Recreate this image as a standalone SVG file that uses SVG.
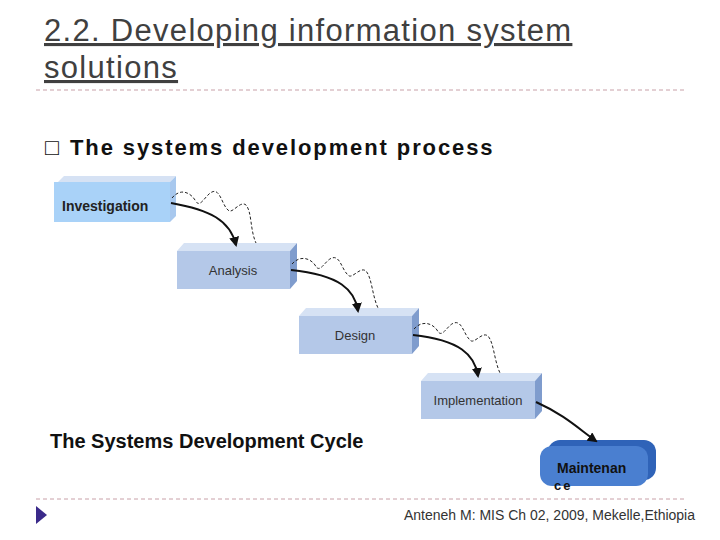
<svg xmlns="http://www.w3.org/2000/svg" width="720" height="540" viewBox="0 0 720 540">
<style>
.t{font-family:"Liberation Sans",Arial,sans-serif}
.front{fill:#b4c8e8}
.top{fill:#d6e2f4}
.side{fill:#7f9ccd}
.lbl{font-family:"Liberation Sans",Arial,sans-serif;font-size:13px;fill:#333}
.arr{fill:none;stroke:#111;stroke-width:2}
.wav{fill:none;stroke:#222;stroke-width:1;stroke-dasharray:3,2}
.sep{stroke:#c8a0a8;stroke-width:1;stroke-dasharray:4,3}
</style>
<defs>
<marker id="ah" viewBox="0 0 10 10" refX="8" refY="5" markerWidth="5" markerHeight="5" orient="auto"><path d="M0,0L10,5L0,10z" fill="#111"/></marker>
</defs>
<rect width="720" height="540" fill="#fff"/>
<text class="t" x="44" y="41" font-size="31" fill="#404040" letter-spacing="1.3" text-decoration="underline">2.2.  Developing information system</text>
<text class="t" x="44" y="78" font-size="31" fill="#404040" letter-spacing="1.3" text-decoration="underline">solutions</text>
<line class="sep" x1="36" y1="90" x2="686" y2="90"/>
<line class="sep" x1="36" y1="499" x2="686" y2="499"/>
<text class="t" x="45" y="155" font-size="23" fill="#111">□</text>
<text class="t" x="70" y="155" font-size="22" font-weight="bold" fill="#111" letter-spacing="1.9">The systems development process</text>
<g id="investigation">
<polygon class="top" points="58,182 170,182 176,176 64,176"/>
<polygon points="170,182 176,176 176,216 170,222" fill="#a8c8ee"/>
<rect x="54" y="182" width="116" height="40" fill="#a9d2f8"/>
<text class="t" x="62" y="211" font-size="14" font-weight="bold" fill="#222">Investigation</text>
</g>
<g id="analysis">
<polygon class="top" points="177,251 290,251 297,243 184,243"/>
<polygon class="side" points="290,251 297,243 297,281 290,289"/>
<rect class="front" x="177" y="251" width="113" height="38"/>
<text class="lbl" x="233" y="275" text-anchor="middle">Analysis</text>
</g>
<g id="design">
<polygon class="top" points="299,316 412,316 419,308 306,308"/>
<polygon class="side" points="412,316 419,308 419,346 412,354"/>
<rect class="front" x="299" y="316" width="113" height="38"/>
<text class="lbl" x="355" y="340" text-anchor="middle">Design</text>
</g>
<g id="implementation">
<polygon class="top" points="421,381 535,381 542,373 428,373"/>
<polygon class="side" points="535,381 542,373 542,411 535,419"/>
<rect class="front" x="421" y="381" width="114" height="38"/>
<text class="lbl" x="478" y="405" text-anchor="middle">Implementation</text>
</g>
<g id="maintenance">
<rect x="548" y="440" width="108" height="40" rx="12" fill="#2f63b8"/>
<rect x="540" y="446" width="108" height="40" rx="12" fill="#4a7fd0"/>
<text class="t" x="557" y="473" font-size="14" font-weight="bold" fill="#111">Maintenan</text>
<text class="t" x="554" y="490" font-size="13" font-weight="bold" fill="#111" letter-spacing="2">ce</text>
</g>
<g id="connectors">
<path class="arr" d="M171,203 C210,210 230,220 236,245" marker-end="url(#ah)"/>
<path class="arr" d="M291,270 C340,275 355,290 358,311" marker-end="url(#ah)"/>
<path class="arr" d="M413,335 C460,340 475,355 478,376" marker-end="url(#ah)"/>
<path class="arr" d="M536,402 C565,415 580,430 596,441" marker-end="url(#ah)"/>
<path class="wav" d="M172,198 C180,188 190,192 195,200 C200,210 205,195 212,192 C220,188 222,205 228,210 C232,215 240,200 246,205 C252,212 250,230 256,243"/>
<path class="wav" d="M292,264 C300,255 310,258 315,265 C320,275 325,260 332,258 C340,255 342,270 348,275 C352,280 360,266 366,271 C372,278 372,295 378,308"/>
<path class="wav" d="M414,329 C422,320 432,323 437,330 C442,340 447,325 454,323 C462,320 464,335 470,340 C474,345 482,331 488,336 C494,343 494,360 500,373"/>
</g>
<text class="t" x="50" y="448" font-size="20" font-weight="bold" fill="#111">The Systems Development Cycle</text>
<polygon points="36,506 47,515 36,524" fill="#3a2a8a"/>
<text class="t" x="695" y="520" font-size="14" fill="#333" text-anchor="end">Anteneh M: MIS Ch 02, 2009,  Mekelle,Ethiopia</text>
</svg>
